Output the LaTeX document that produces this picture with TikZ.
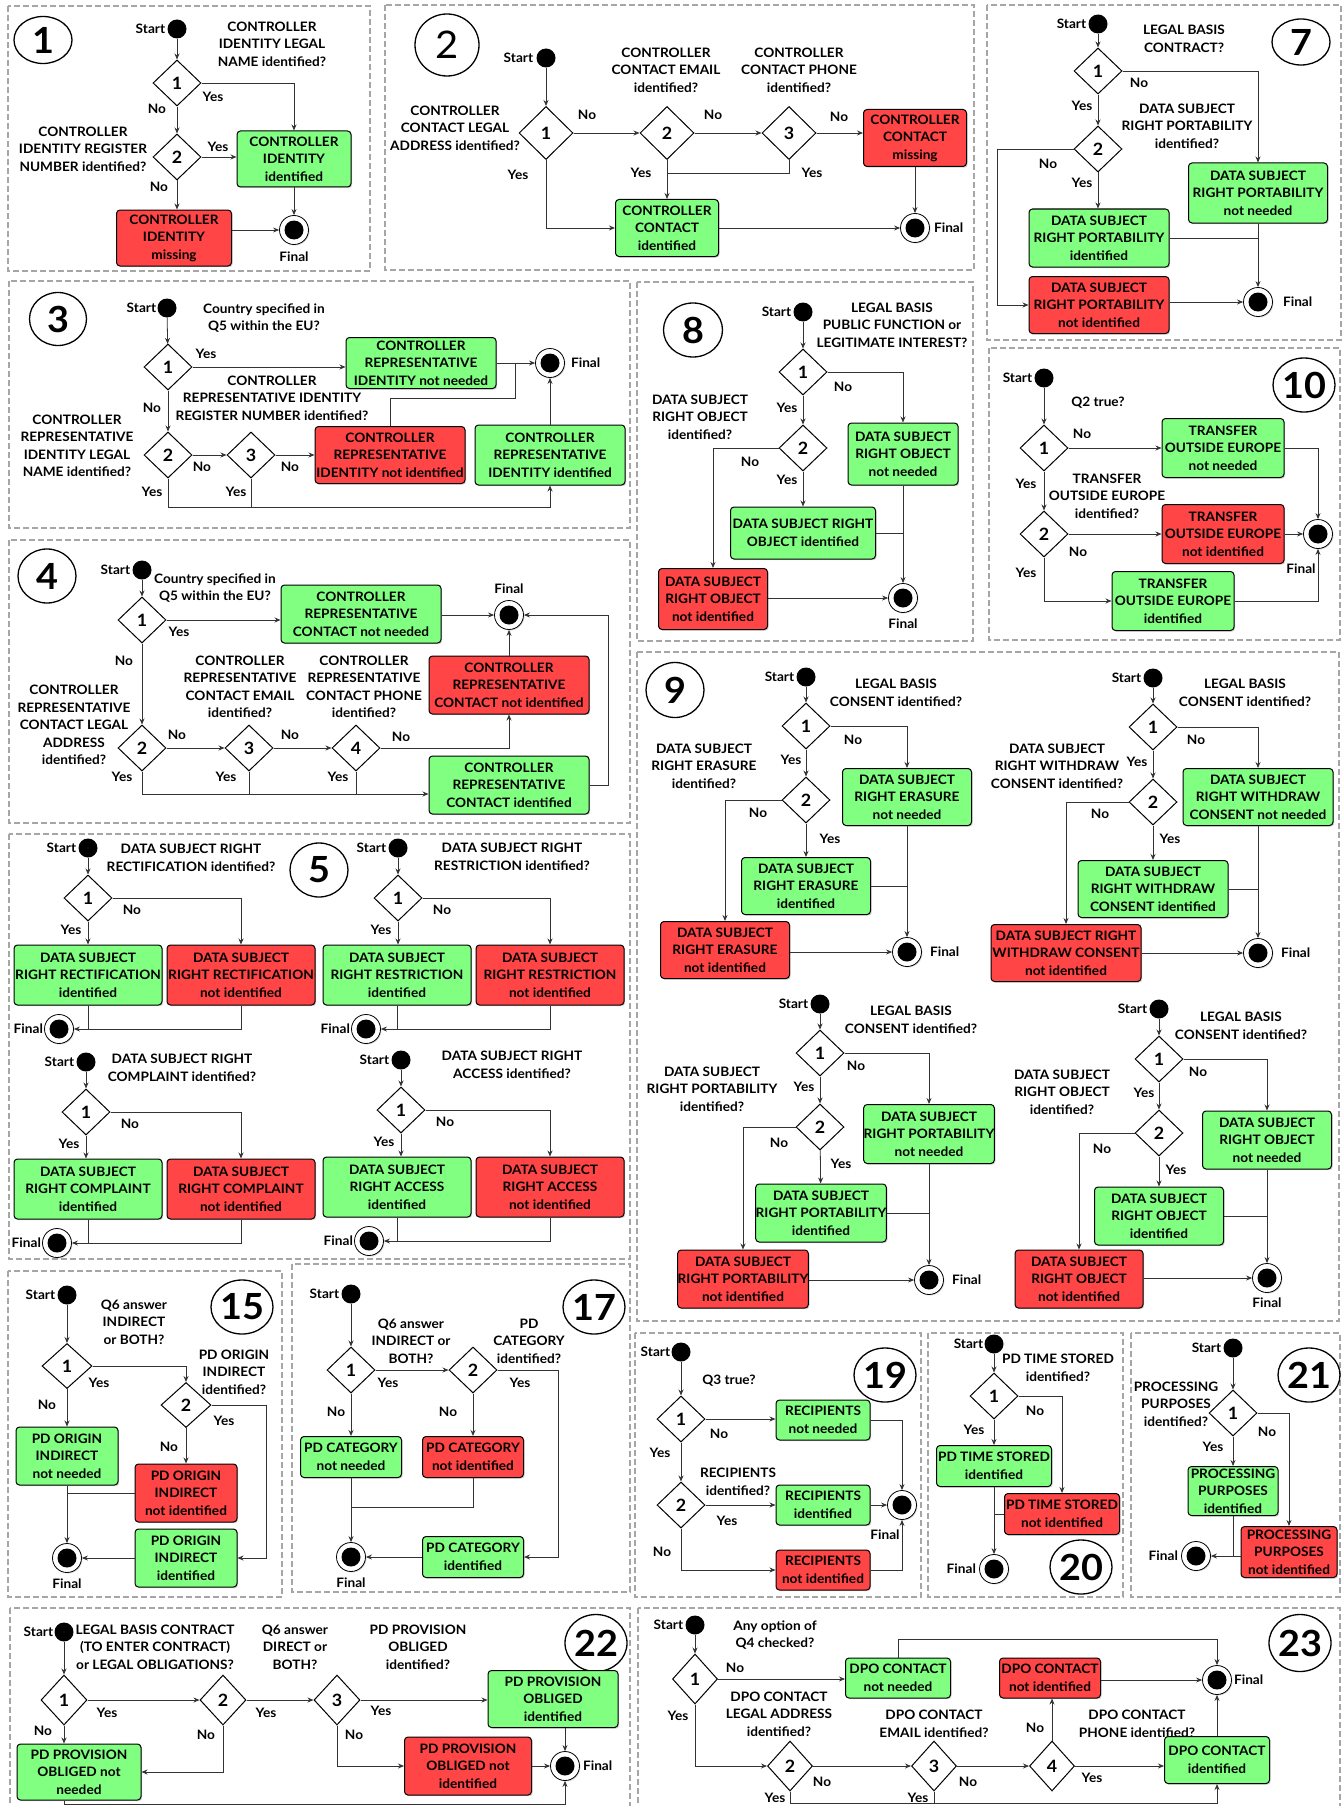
\documentclass[tikz,border=0pt]{standalone}
\usepackage{fontspec}
\setmainfont{Lato}[FakeStretch=1.05]
\usetikzlibrary{shapes.geometric,arrows.meta,shadows,positioning}
\definecolor{okgreen}{HTML}{80FF80}
\definecolor{nored}{HTML}{FF4545}
\newcommand\ft{\fontsize{13}{17.5}\selectfont\bfseries}
\begin{document}
\begin{tikzpicture}[x=1pt,y=-1pt,
  panel/.style={draw=black!35,line width=1.2pt,dash pattern=on 6pt off 3pt},
  num/.style 2 args={ellipse,draw,line width=1.3pt,inner sep=0pt,minimum width=#1,minimum height=#2,font=\fontsize{36}{36}\selectfont\bfseries},
  start/.style={circle,fill=black,inner sep=0pt,minimum size=19},
  final/.style={circle,draw,line width=0.8pt,fill=white,inner sep=0pt,minimum size=29,drop shadow={shadow xshift=1pt,shadow yshift=-1pt,opacity=0.3},path picture={\fill[black] (path picture bounding box.center) circle[radius=9.5pt];}},
  dec/.style={diamond,draw,line width=1pt,fill=white,inner sep=0pt,minimum width=48,minimum height=46,font=\fontsize{17}{17}\selectfont\bfseries},
  box/.style 2 args={draw,line width=1pt,rounded corners=3.5pt,align=center,inner sep=0pt,minimum width=#1,minimum height=#2,font=\ft,drop shadow={shadow xshift=1.2pt,shadow yshift=-1.2pt,opacity=0.35}},
  ok/.style 2 args={box={#1}{#2},fill=okgreen},
  ko/.style 2 args={box={#1}{#2},fill=nored},
  q/.style={align=center,font=\ft,inner sep=0pt},
  lab/.style={font=\ft,inner sep=0pt},
  flow/.style={draw=black!80,line width=0.8pt,-{Stealth[length=6pt,width=5pt]}},
  wire/.style={draw=black!80,line width=0.8pt}]
\useasboundingbox (0,0) rectangle (1343,1806);

\foreach \a/\b/\c/\d in {8/6/370/271,385/5/974/270,987/5/1341/340,9/281/630/528,637/282/973/641,989/348/1340/640,9/540/630/823,9/834/630/1259,637/652/1339/1321,8/1271/282/1597,292/1264/630/1592,635/1333/921/1597,928/1333/1123/1597,1131/1333/1340/1597,10/1608/630/1830,638/1608/1340/1830}
	\draw[panel] (\a,\b) rectangle (\c,\d);
\foreach \n/\x/\y/\w/\h in {1/43/40/58/47,7/1301/42/58/46,3/58/319/57/53,8/693/330/59/54,10/1304/385/58/54,4/47/576/58/54,5/319/870/58/54,9/675/690/58/55,15/242/1307/61/54,17/594/1307/58/54,19/885/1375/57/54,20/1081/1567/57/54,21/1309/1375/57/54,22/596/1643/62/57,23/1300/1643/62/57}
	\node[num={\w}{\h}] (n\n) at (\x,\y) {\n};
\node[num={64}{62},font=\fontsize{38}{38}\selectfont] (n2) at (447,45) {2};

% 1
\node[start] (s1) at (177,29) {};
\node[lab,left=2pt of s1] (t1) {Start};
\node[q] (q1a) at (272,44) {CONTROLLER\\IDENTITY LEGAL\\NAME identified?};
\node[dec] (d1a) at (177,83) {1};
\node[q] (q1b) at (83,149) {CONTROLLER\\IDENTITY REGISTER\\NUMBER identified?};
\node[dec] (d1b) at (177,157) {2};
\node[ok={114}{56}] (g1) at (294,159) {CONTROLLER\\IDENTITY\\identified};
\node[ko={115}{56}] (r1) at (174,238) {CONTROLLER\\IDENTITY\\missing};
\node[final] (f1) at (294,230) {};
\node[lab,below=7pt of f1] (e1) {Final};
\foreach \lb/\x/\y [count=\i] in {No/157/109,Yes/213/97,Yes/218/147,No/159/187}
	\node[lab] (l1-\i) at (\x,\y) {\lb};
\draw[flow] (s1) -- (d1a);
\draw[flow] (d1a) -- (d1b);
\draw[flow] (d1a.east) -| (g1.north);
\draw[flow] (d1b.east) -- (d1b.east -| g1.west);
\draw[flow] (d1b.south) -- (d1b.south |- r1.north);
\draw[flow] (g1) -- (f1);
\draw[flow] (r1.east |- f1) -- (f1);

% 2
\node[start] (s2) at (546,58) {};
\node[lab,left=3pt of s2] (t2) {Start};
\node[q] (q2a) at (455,128) {CONTROLLER\\CONTACT LEGAL\\ADDRESS identified?};
\node[q] (q2b) at (666,70) {CONTROLLER\\CONTACT EMAIL\\identified?};
\node[q] (q2c) at (799,70) {CONTROLLER\\CONTACT PHONE\\identified?};
\node[dec,minimum width=54,minimum height=53] (d2a) at (546,133) {1};
\node[dec,minimum width=54,minimum height=53] (d2b) at (667,133) {2};
\node[dec,minimum width=54,minimum height=53] (d2c) at (789,133) {3};
\node[ko={103}{57}] (r2) at (915,138) {CONTROLLER\\CONTACT\\missing};
\node[ok={103}{57}] (g2) at (667,228) {CONTROLLER\\CONTACT\\identified};
\node[final] (f2) at (915,228) {};
\node[lab,right=4pt of f2] (e2) {Final};
\coordinate (c2) at (667,173);
\foreach \lb/\x/\y [count=\i] in {No/587/115,Yes/518/175,No/713/115,Yes/641/173,No/839/117,Yes/812/173}
	\node[lab] (l2-\i) at (\x,\y) {\lb};
\draw[flow] (s2) -- (d2a);
\draw[flow] (d2a) -- (d2b);
\draw[flow] (d2b) -- (d2c);
\draw[flow] (d2c.east) -- (d2c.east -| r2.west);
\draw[flow] (d2b) -- (g2);
\draw[wire] (d2c.south) |- (c2);
\draw[flow] (d2a.south) |- (g2.west);
\draw[flow] (g2) -- (f2);
\draw[flow] (r2) -- (f2);

% 7
\node[start] (s7) at (1098,24) {};
\node[lab,left=2pt of s7] (t7) {Start};
\node[q] (q7a) at (1184,39) {LEGAL BASIS\\CONTRACT?};
\node[dec] (d7a) at (1098,71) {1};
\node[q] (q7b) at (1187,126) {DATA SUBJECT\\RIGHT PORTABILITY\\identified?};
\node[dec] (d7b) at (1098,149) {2};
\node[ok={139}{60}] (g7) at (1258,193) {DATA SUBJECT\\RIGHT PORTABILITY\\not needed};
\node[ok={140}{58}] (h7) at (1099,238) {DATA SUBJECT\\RIGHT PORTABILITY\\identified};
\node[ko={140}{57}] (r7) at (1099,305) {DATA SUBJECT\\RIGHT PORTABILITY\\not identified};
\node[final] (f7) at (1258,302) {};
\node[lab,right=10pt of f7] (e7) {Final};
\coordinate (c7) at (997,149);
\foreach \lb/\x/\y [count=\i] in {No/1139/83,Yes/1082/106,No/1048/164,Yes/1082/183}
	\node[lab] (l7-\i) at (\x,\y) {\lb};
\draw[flow] (s7) -- (d7a);
\draw[flow] (d7a) -- (d7b);
\draw[flow] (d7a.east) -| (g7.north);
\draw[flow] (d7b.south) -- (d7b.south |- h7.north);
\draw[flow] (d7b.west) -- (c7) |- (r7.west);
\draw[flow] (g7) -- (f7);
\draw[wire] (h7.east) -- (h7.east -| f7);
\draw[flow] (r7.east |- f7) -- (f7);

% 3
\node[start] (s3) at (167,308) {};
\node[lab,left=1pt of s3] (t3) {Start};
\node[q] (q3a) at (264,318) {Country specified in\\Q5 within the EU?};
\node[dec] (d3a) at (168,367) {1};
\node[ok={150}{51}] (g3) at (421,363) {CONTROLLER\\REPRESENTATIVE\\IDENTITY not needed};
\node[final] (f3) at (550,363) {};
\node[lab,right=6pt of f3] (e3) {Final};
\node[q] (q3b) at (272,398) {CONTROLLER\\REPRESENTATIVE IDENTITY\\REGISTER NUMBER identified?};
\node[q] (q3c) at (77,446) {CONTROLLER\\REPRESENTATIVE\\IDENTITY LEGAL\\NAME identified?};
\node[dec] (d3b) at (168,455) {2};
\node[dec] (d3c) at (251,455) {3};
\node[ko={150}{57}] (r3) at (390,455) {CONTROLLER\\REPRESENTATIVE\\IDENTITY not identified};
\node[ok={150}{60}] (h3) at (550,455) {CONTROLLER\\REPRESENTATIVE\\IDENTITY identified};
\coordinate (c3a) at (515,398);
\coordinate (c3b) at (168,507);
\foreach \lb/\x/\y [count=\i] in {Yes/206/354,No/152/408,No/202/467,Yes/152/492,No/290/467,Yes/236/492}
	\node[lab] (l3-\i) at (\x,\y) {\lb};
\draw[flow] (s3) -- (d3a);
\draw[flow] (d3a) -- (d3b);
\draw[flow] (d3a.east) -- (d3a.east -| g3.west);
\draw[flow] (g3) -- (f3);
\draw[flow] (d3b) -- (d3c);
\draw[flow] (d3c) -- (r3);
\draw[wire] (r3.north) |- (c3a) -- (c3a |- f3);
\draw[flow] (h3) -- (f3);
\draw[flow] (d3b.south) -- (c3b) -| (h3.south);
\draw[wire] (d3c.south) -- (d3c.south |- c3b);

% 8
\node[start] (s8) at (803,312) {};
\node[lab,left=2pt of s8] (t8) {Start};
\node[q] (q8a) at (892,325) {LEGAL BASIS\\PUBLIC FUNCTION or\\LEGITIMATE INTEREST?};
\node[dec] (d8a) at (803,372) {1};
\node[q] (q8b) at (700,417) {DATA SUBJECT\\RIGHT OBJECT\\identified?};
\node[dec] (d8b) at (803,448) {2};
\node[ok={110}{62}] (g8) at (903,454) {DATA SUBJECT\\RIGHT OBJECT\\not needed};
\node[ok={145}{52}] (h8) at (803,533) {DATA SUBJECT RIGHT\\OBJECT identified};
\node[ko={109}{61}] (r8) at (713,599) {DATA SUBJECT\\RIGHT OBJECT\\not identified};
\node[final] (f8) at (903,598) {};
\node[lab,below=6pt of f8] (e8) {Final};
\foreach \lb/\x/\y [count=\i] in {No/843/387,Yes/787/408,No/750/462,Yes/787/480}
	\node[lab] (l8-\i) at (\x,\y) {\lb};

% 10
\node[start] (s10) at (1044,378) {};
\node[lab,left=2pt of s10] (t10) {Start};
\node[q] (q10a) at (1098,403) {Q2 true?};
\node[dec] (d10a) at (1044,448) {1};
\node[ok={122}{59}] (g10) at (1223,448) {TRANSFER\\OUTSIDE EUROPE\\not needed};
\node[q] (q10b) at (1107,496) {TRANSFER\\OUTSIDE EUROPE\\identified?};
\node[dec] (d10b) at (1044,534) {2};
\node[ko={122}{59}] (r10) at (1223,534) {TRANSFER\\OUTSIDE EUROPE\\not identified};
\node[final] (f10) at (1318,534) {};
\node[lab] (e10) at (1301,569) {Final};
\node[ok={122}{59}] (h10) at (1173,601) {TRANSFER\\OUTSIDE EUROPE\\identified};
\foreach \lb/\x/\y [count=\i] in {No/1082/434,Yes/1026/484,No/1078/552,Yes/1026/573}
	\node[lab] (l10-\i) at (\x,\y) {\lb};
\draw[flow] (s10) -- (d10a);
\draw[flow] (d10a) -- (d10b);
\draw[flow] (d10a) -- (g10);
\draw[flow] (d10b) -- (r10);
\draw[flow] (r10) -- (f10);
\draw[flow] (g10.east) -| (f10.north);
\draw[flow] (d10b.south) |- (h10.west);
\draw[flow] (h10.east) -| (f10.south);

% 4
\node[start] (s4) at (142,570) {};
\node[lab,left=2pt of s4] (t4) {Start};
\node[q] (q4a) at (215,588) {Country specified in\\Q5 within the EU?};
\node[dec] (d4a) at (142,620) {1};
\node[ok={160}{58}] (g4) at (361,614) {CONTROLLER\\REPRESENTATIVE\\CONTACT not needed};
\node[final] (f4) at (509,615) {};
\node[lab,above=6pt of f4] (e4) {Final};
\node[ko={160}{58}] (r4) at (509,685) {CONTROLLER\\REPRESENTATIVE\\CONTACT not identified};
\node[ok={160}{58}] (h4) at (509,785) {CONTROLLER\\REPRESENTATIVE\\CONTACT identified};
\node[q] (q4b) at (74,725) {CONTROLLER\\REPRESENTATIVE\\CONTACT LEGAL\\ADDRESS\\identified?};
\node[q] (q4c) at (240,687) {CONTROLLER\\REPRESENTATIVE\\CONTACT EMAIL\\identified?};
\node[q] (q4d) at (364,687) {CONTROLLER\\REPRESENTATIVE\\CONTACT PHONE\\identified?};
\node[dec] (d4b) at (142,748) {2};
\node[dec] (d4c) at (249,748) {3};
\node[dec] (d4d) at (356,748) {4};
\coordinate (c4a) at (142,794);
\coordinate (c4b) at (608,785);
\foreach \lb/\x/\y [count=\i] in {Yes/179/632,No/124/661,No/177/735,Yes/122/777,No/290/735,Yes/226/777,No/401/737,Yes/338/777}
	\node[lab] (l4-\i) at (\x,\y) {\lb};
\draw[flow] (s4) -- (d4a);
\draw[flow] (d4a.east) -- (d4a.east -| g4.west);
\draw[flow] (g4.east |- f4) -- (f4);
\draw[flow] (r4) -- (f4);
\draw[flow] (d4a) -- (d4b);
\draw[flow] (d4b) -- (d4c);
\draw[flow] (d4c) -- (d4d);
\draw[flow] (d4d.east) -| (r4.south);
\draw[flow] (d4b.south) -- (c4a) -- (c4a -| h4.west);
\draw[wire] (d4c.south) -- (d4c.south |- c4a);
\draw[wire] (d4d.south) -- (d4d.south |- c4a);
\draw[flow] (h4.east) -- (c4b) |- (f4.east);

% 5
\foreach \k/\rt/\x/\y/\gx/\fx/\qx/\qy in {a/RECTIFICATION/88/848/88/59/191/858,b/RESTRICTION/398/848/397/366/512/857,c/COMPLAINT/86/1062/88/57/182/1068,d/ACCESS/401/1060/397/369/512/1065}{
	\node[start] (s5\k) at (\x,\y) {};
	\node[lab,left=2pt of s5\k] (t5\k) {Start};
	\node[q] (q5\k) at (\qx,\qy) {DATA SUBJECT RIGHT\\\rt{} identified?};
	\node[dec] (d5\k) at (\x,\y+50) {1};
	\node[ok={148}{60}] (g5\k) at (\gx,\y+127) {DATA SUBJECT\\RIGHT \rt\\identified};
	\node[ko={148}{60}] (r5\k) at (\gx+153,\y+127) {DATA SUBJECT\\RIGHT \rt\\not identified};
	\node[final] (f5\k) at (\fx,\y+181) {};
	\node[lab,left=1pt of f5\k] (e5\k) {Final};
	\node[lab] (n5\k) at (\x+44,\y+62) {No};
	\node[lab] (y5\k) at (\x-17,\y+82) {Yes};
	\draw[flow] (s5\k) -- (d5\k);
	\draw[flow] (d5\k.south) -- (d5\k.south |- g5\k.north);
	\draw[flow] (d5\k.east) -| (r5\k.north);
	\draw[flow] (r5\k.south) |- (f5\k.east);
	\draw[wire] (g5\k.south) -- (g5\k.south |- f5\k);
}

% 9
\node[start] (s9a) at (806,677) {};
\node[lab,left=2pt of s9a] (t9a) {Start};
\node[q] (q9a) at (896,693) {LEGAL BASIS\\CONSENT identified?};
\node[dec] (d9a) at (806,726) {1};
\node[q] (q9b) at (704,766) {DATA SUBJECT\\RIGHT ERASURE\\identified?};
\node[dec] (d9b) at (806,800) {2};
\node[ok={129}{57}] (g9a) at (907,797) {DATA SUBJECT\\RIGHT ERASURE\\not needed};
\node[ok={129}{57}] (h9a) at (806,886) {DATA SUBJECT\\RIGHT ERASURE\\identified};
\node[ko={129}{57}] (r9a) at (725,950) {DATA SUBJECT\\RIGHT ERASURE\\not identified};
\node[final] (f9a) at (907,952) {};
\node[lab,right=8pt of f9a] (e9a) {Final};

\node[start] (s9b) at (1153,678) {};
\node[lab,left=2pt of s9b] (t9b) {Start};
\node[q] (q9c) at (1245,693) {LEGAL BASIS\\CONSENT identified?};
\node[dec] (d9c) at (1153,727) {1};
\node[q] (q9d) at (1057,766) {DATA SUBJECT\\RIGHT WITHDRAW\\CONSENT identified?};
\node[dec] (d9d) at (1153,802) {2};
\node[ok={150}{57}] (g9b) at (1258,797) {DATA SUBJECT\\RIGHT WITHDRAW\\CONSENT not needed};
\node[ok={150}{57}] (h9b) at (1153,889) {DATA SUBJECT\\RIGHT WITHDRAW\\CONSENT identified};
\node[ko={150}{57}] (r9b) at (1066,953) {DATA SUBJECT RIGHT\\WITHDRAW CONSENT\\not identified};
\node[final] (f9b) at (1258,953) {};
\node[lab,right=8pt of f9b] (e9b) {Final};

\node[start] (s9c) at (820,1004) {};
\node[lab,left=2pt of s9c] (t9c) {Start};
\node[q] (q9e) at (911,1020) {LEGAL BASIS\\CONSENT identified?};
\node[dec] (d9e) at (820,1053) {1};
\node[q] (q9f) at (712,1089) {DATA SUBJECT\\RIGHT PORTABILITY\\identified?};
\node[dec] (d9f) at (820,1127) {2};
\node[ok={128}{59}] (g9c) at (929,1134) {DATA SUBJECT\\RIGHT PORTABILITY\\not needed};
\node[ok={130}{58}] (h9c) at (821,1213) {DATA SUBJECT\\RIGHT PORTABILITY\\identified};
\node[ko={128}{58}] (r9c) at (743,1279) {DATA SUBJECT\\RIGHT PORTABILITY\\not identified};
\node[final] (f9c) at (929,1280) {};
\node[lab,right=8pt of f9c] (e9c) {Final};

\node[start] (s9d) at (1159,1009) {};
\node[lab,left=2pt of s9d] (t9d) {Start};
\node[q] (q9g) at (1241,1026) {LEGAL BASIS\\CONSENT identified?};
\node[dec] (d9g) at (1159,1059) {1};
\node[q] (q9h) at (1062,1092) {DATA SUBJECT\\RIGHT OBJECT\\identified?};
\node[dec] (d9h) at (1159,1133) {2};
\node[ok={129}{58}] (g9d) at (1267,1140) {DATA SUBJECT\\RIGHT OBJECT\\not needed};
\node[ok={129}{58}] (h9d) at (1159,1216) {DATA SUBJECT\\RIGHT OBJECT\\identified};
\node[ko={128}{58}] (r9d) at (1079,1279) {DATA SUBJECT\\RIGHT OBJECT\\not identified};
\node[final] (f9d) at (1267,1278) {};
\node[lab,below=5pt of f9d] (e9d) {Final};
\foreach \lb/\x/\y [count=\i] in {No/853/740,Yes/791/760,No/758/813,Yes/830/839,No/1196/740,Yes/1137/762,No/1100/814,Yes/1170/839,No/856/1066,Yes/804/1087,No/779/1143,Yes/841/1164,No/1198/1072,Yes/1144/1093,No/1102/1149,Yes/1176/1170}
	\node[lab] (l9-\i) at (\x,\y) {\lb};

% 8 and 9 share one layout
\foreach \st/\da/\db/\gn/\gi/\rd/\fn in {s8/d8a/d8b/g8/h8/r8/f8,s9a/d9a/d9b/g9a/h9a/r9a/f9a,s9b/d9c/d9d/g9b/h9b/r9b/f9b,s9c/d9e/d9f/g9c/h9c/r9c/f9c,s9d/d9g/d9h/g9d/h9d/r9d/f9d}{
	\draw[flow] (\st) -- (\da);
	\draw[flow] (\da) -- (\db);
	\draw[flow] (\da.east) -| (\gn.north);
	\draw[flow] (\db.west) -| (\rd.north);
	\draw[flow] (\db) -- (\gi);
	\draw[wire] (\gi.east) -- (\gi.east -| \fn);
	\draw[flow] (\gn) -- (\fn);
	\draw[flow] (\rd.east |- \fn) -- (\fn);
}

% 15
\node[start] (s15) at (67,1295) {};
\node[lab,left=2pt of s15] (t15) {Start};
\node[q] (q15a) at (134,1322) {Q6 answer\\INDIRECT\\or BOTH?};
\node[dec,minimum width=50,minimum height=45] (d15a) at (67,1366) {1};
\node[q] (q15b) at (234,1372) {PD ORIGIN\\INDIRECT\\identified?};
\node[dec,minimum width=50,minimum height=45] (d15b) at (186,1405) {2};
\node[ok={102}{58}] (g15) at (67,1456) {PD ORIGIN\\INDIRECT\\not needed};
\node[ko={102}{58}] (r15) at (186,1493) {PD ORIGIN\\INDIRECT\\not identified};
\node[ok={102}{58}] (h15) at (186,1558) {PD ORIGIN\\INDIRECT\\identified};
\node[final] (f15) at (67,1558) {};
\node[lab,below=6pt of f15] (e15) {Final};
\coordinate (c15) at (266,1405);
\foreach \lb/\x/\y [count=\i] in {Yes/99/1383,No/47/1405,Yes/224/1421,No/169/1447}
	\node[lab] (l15-\i) at (\x,\y) {\lb};
\draw[flow] (s15) -- (d15a);
\draw[flow] (d15a) -- (g15);
\draw[flow] (d15a.east) -| (d15b.north);
\draw[flow] (d15b) -- (r15);
\draw[flow] (d15b.east) -- (c15) |- (h15.east);
\draw[flow] (g15) -- (f15);
\draw[wire] (r15.west) -- (r15.west -| f15);
\draw[flow] (h15) -- (f15);

% 17
\node[start] (s17) at (351,1294) {};
\node[lab,left=2pt of s17] (t17) {Start};
\node[q] (q17a) at (411,1341) {Q6 answer\\INDIRECT or\\BOTH?};
\node[dec] (d17a) at (351,1370) {1};
\node[q] (q17b) at (529,1341) {PD\\CATEGORY\\identified?};
\node[dec] (d17b) at (473,1370) {2};
\node[ok={101}{41}] (g17) at (351,1457) {PD CATEGORY\\not needed};
\node[ko={101}{41}] (r17) at (473,1457) {PD CATEGORY\\not identified};
\node[ok={101}{41}] (h17) at (473,1557) {PD CATEGORY\\identified};
\node[final] (f17) at (351,1557) {};
\node[lab,below=6pt of f17] (e17) {Final};
\coordinate (c17a) at (558,1370);
\coordinate (c17b) at (351,1507);
\foreach \lb/\x/\y [count=\i] in {Yes/388/1383,No/336/1412,Yes/520/1383,No/448/1412}
	\node[lab] (l17-\i) at (\x,\y) {\lb};
\draw[flow] (s17) -- (d17a);
\draw[flow] (d17a) -- (d17b);
\draw[flow] (d17a) -- (g17);
\draw[flow] (d17b) -- (r17);
\draw[flow] (d17b.east) -- (c17a) |- (h17.east);
\draw[flow] (g17) -- (f17);
\draw[wire] (r17.south) |- (c17b);
\draw[flow] (h17) -- (f17);

% 19
\node[start] (s19) at (681,1352) {};
\node[lab,left=1pt of s19] (t19) {Start};
\node[q] (q19a) at (729,1381) {Q3 true?};
\node[dec] (d19a) at (681,1419) {1};
\node[ok={94}{40}] (g19) at (823,1420) {RECIPIENTS\\not needed};
\node[q] (q19b) at (738,1482) {RECIPIENTS\\identified?};
\node[dec] (d19b) at (681,1505) {2};
\node[ok={94}{40}] (h19) at (823,1505) {RECIPIENTS\\identified};
\node[ko={94}{40}] (r19) at (823,1570) {RECIPIENTS\\not identified};
\node[final] (f19) at (902,1505) {};
\node[lab] (e19) at (885,1535) {Final};
\foreach \lb/\x/\y [count=\i] in {No/719/1434,Yes/660/1453,Yes/727/1521,No/662/1552}
	\node[lab] (l19-\i) at (\x,\y) {\lb};
\draw[flow] (s19) -- (d19a);
\draw[flow] (d19a) -- (d19b);
\draw[flow] (d19a.east) -- (d19a.east -| g19.west);
\draw[flow] (d19b) -- (h19);
\draw[flow] (h19) -- (f19);
\draw[flow] (g19.east) -| (f19.north);
\draw[flow] (d19b.south) |- (r19.west);
\draw[flow] (r19.east) -| (f19.south);

% 20
\node[start] (s20) at (994,1344) {};
\node[lab,left=1pt of s20] (t20) {Start};
\node[q] (q20) at (1058,1368) {PD TIME STORED\\identified?};
\node[dec] (d20) at (994,1396) {1};
\node[ok={115}{41}] (g20) at (994,1466) {PD TIME STORED\\identified};
\node[ko={115}{41}] (r20) at (1062,1514) {PD TIME STORED\\not identified};
\node[final] (f20) at (994,1569) {};
\node[lab,left=3pt of f20] (e20) {Final};
\foreach \lb/\x/\y [count=\i] in {No/1035/1411,Yes/974/1430}
	\node[lab] (l20-\i) at (\x,\y) {\lb};
\draw[flow] (s20) -- (d20);
\draw[flow] (d20) -- (g20);
\draw[flow] (d20.east) -| (r20.north);
\draw[flow] (g20) -- (f20);
\draw[wire] (r20.west) -- (r20.west -| f20);

% 21
\node[start] (s21) at (1233,1348) {};
\node[lab,left=2pt of s21] (t21) {Start};
\node[q] (q21) at (1176,1404) {PROCESSING\\PURPOSES\\identified?};
\node[dec] (d21) at (1233,1413) {1};
\node[ok={90}{49}] (g21) at (1233,1491) {PROCESSING\\PURPOSES\\identified};
\node[ko={96}{51}] (r21) at (1289,1552) {PROCESSING\\PURPOSES\\not identified};
\node[final] (f21) at (1196,1556) {};
\node[lab,left=3pt of f21] (e21) {Final};
\foreach \lb/\x/\y [count=\i] in {No/1267/1432,Yes/1213/1447}
	\node[lab] (l21-\i) at (\x,\y) {\lb};
\draw[flow] (s21) -- (d21);
\draw[flow] (d21) -- (g21);
\draw[flow] (d21.east) -| (r21.north);
\draw[flow] (g21.south) |- (f21.east);
\draw[wire] (r21.west |- f21) -- (g21.south |- f21);

% 22
\node[start] (s22) at (64,1632) {};
\node[lab,left=1pt of s22] (t22) {Start};
\node[q] (q22a) at (155,1647) {LEGAL BASIS CONTRACT\\(TO ENTER CONTRACT)\\or LEGAL OBLIGATIONS?};
\node[q] (q22b) at (295,1647) {Q6 answer\\DIRECT or\\BOTH?};
\node[q] (q22c) at (418,1647) {PD PROVISION\\OBLIGED\\identified?};
\node[dec,minimum width=46,minimum height=50] (d22a) at (64,1700) {1};
\node[dec,minimum width=46,minimum height=50] (d22b) at (223,1700) {2};
\node[dec,minimum width=46,minimum height=50] (d22c) at (337,1700) {3};
\node[ok={130}{57}] (g22) at (553,1699) {PD PROVISION\\OBLIGED\\identified};
\node[ko={127}{58}] (r22) at (468,1766) {PD PROVISION\\OBLIGED not\\identified};
\node[ok={124}{56}] (h22) at (79,1772) {PD PROVISION\\OBLIGED not\\needed};
\node[final] (f22) at (565,1766) {};
\node[lab,right=3pt of f22] (e22) {Final};
\coordinate (c22) at (64,1804);
\foreach \lb/\x/\y [count=\i] in {Yes/107/1713,No/43/1731,Yes/266/1713,No/206/1735,Yes/381/1711,No/354/1735}
	\node[lab] (l22-\i) at (\x,\y) {\lb};
\draw[flow] (s22) -- (d22a);
\draw[flow] (d22a) -- (d22b);
\draw[flow] (d22b) -- (d22c);
\draw[flow] (d22c.east) -- (d22c.east -| g22.west);
\draw[flow] (d22a.south) -- (d22a.south |- h22.north);
\draw[flow] (d22b.south) |- (h22.east);
\draw[flow] (d22c.south) |- (r22.west);
\draw[flow] (g22.south -| f22) -- (f22);
\draw[flow] (r22) -- (f22);
\draw[flow] (h22.south -| c22) -- (c22) -| (f22.south);

% 23
\node[start] (s23) at (695,1625) {};
\node[lab,left=2pt of s23] (t23) {Start};
\node[q] (q23a) at (775,1635) {Any option of\\Q4 checked?};
\node[dec,minimum width=45,minimum height=50] (d23a) at (695,1679) {1};
\node[ok={105}{40}] (g23) at (898,1678) {DPO CONTACT\\not needed};
\node[ko={101}{40}] (r23) at (1050,1678) {DPO CONTACT\\not identified};
\node[final] (f23) at (1217,1680) {};
\node[lab,right=2pt of f23] (e23) {Final};
\node[q] (q23b) at (779,1714) {DPO CONTACT\\LEGAL ADDRESS\\identified?};
\node[q] (q23c) at (934,1724) {DPO CONTACT\\EMAIL identified?};
\node[q] (q23d) at (1137,1724) {DPO CONTACT\\PHONE identified?};
\node[dec,minimum width=45,minimum height=50] (d23b) at (790,1766) {2};
\node[dec,minimum width=45,minimum height=50] (d23c) at (934,1766) {3};
\node[dec,minimum width=45,minimum height=50] (d23d) at (1052,1766) {4};
\node[ok={105}{47}] (h23) at (1217,1760) {DPO CONTACT\\identified};
\coordinate (c23a) at (898,1639);
\coordinate (c23b) at (790,1803);
\foreach \lb/\x/\y [count=\i] in {No/735/1668,Yes/678/1716,No/822/1782,Yes/775/1798,No/968/1782,Yes/918/1798,No/1035/1728,Yes/1092/1778}
	\node[lab] (l23-\i) at (\x,\y) {\lb};
\draw[flow] (s23) -- (d23a);
\draw[flow] (d23a.east) -- (d23a.east -| g23.west);
\draw[flow] (g23.north) -- (c23a) -| (f23.north);
\draw[flow] (r23.east |- f23) -- (f23);
\draw[flow] (d23a.south) |- (d23b.west);
\draw[flow] (d23b) -- (d23c);
\draw[flow] (d23c) -- (d23d);
\draw[flow] (d23d.north) -- (d23d.north |- r23.south);
\draw[flow] (d23d.east) -- (d23d.east -| h23.west);
\draw[flow] (h23) -- (f23);
\draw[flow] (d23b.south) -- (c23b) -| (h23.south);
\draw[wire] (d23c.south) -- (d23c.south |- c23b);
\end{tikzpicture}
\end{document}
